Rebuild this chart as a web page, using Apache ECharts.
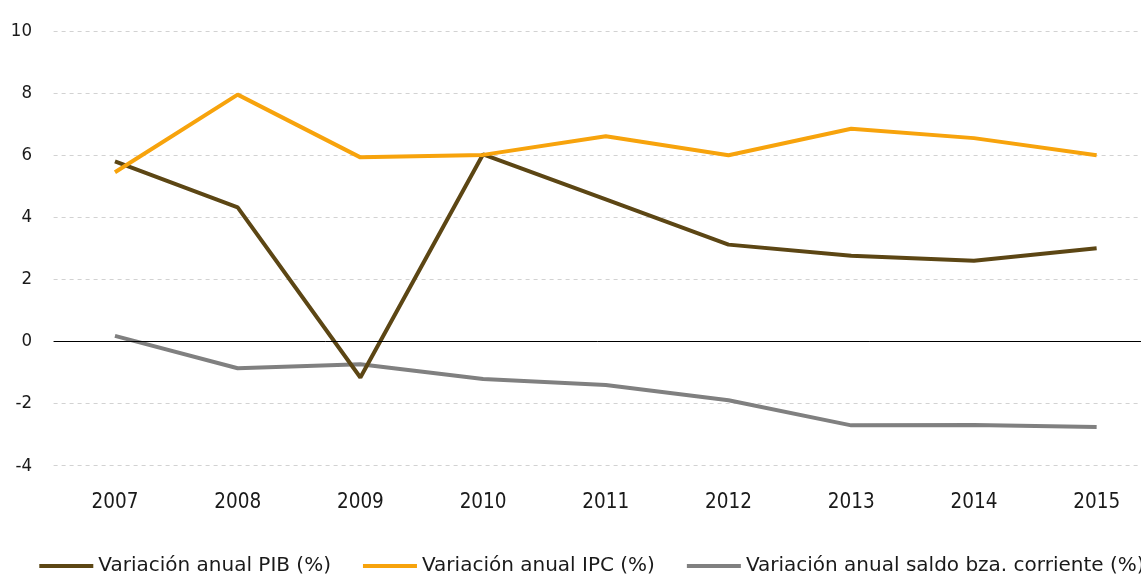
<!DOCTYPE html>
<html>
<head>
<meta charset="utf-8">
<script src="https://cdn.jsdelivr.net/npm/echarts@6/dist/echarts.min.js"></script>
<style>
html,body{margin:0;padding:0;background:#fff;}
#chart{width:1141px;height:580px;}
</style>
</head>
<body>
<div id="chart"></div>
<script>
const years = ['2007','2008','2009','2010','2011','2012','2013','2014','2015'];
const pib = [5.8, 4.32, -1.16, 6.03, 4.58, 3.12, 2.76, 2.6, 3.0];
const ipc = [5.45, 7.95, 5.93, 6.01, 6.61, 6.0, 6.85, 6.55, 6.0];
const saldo = [0.18, -0.86, -0.73, -1.21, -1.40, -1.89, -2.70, -2.69, -2.75];
const names = ['Variación anual PIB (%)', 'Variación anual IPC (%)', 'Variación anual saldo bza. corriente (%)'];
const colors = ['#5c4614', '#f7a30c', '#808080'];

const FONT_C = 'DejaVu Sans Condensed';
const FONT = 'DejaVu Sans';
const chart = echarts.init(document.getElementById('chart'), null, {renderer:'canvas'});
chart.setOption({
  animation: false,
  textStyle: {fontFamily: FONT_C},
  grid: {left: 53.6, top: 31, width: 1104.4, height: 434.7, containLabel: false, outerBoundsMode: 'none'},
  legend: {
    left: 34.3, top: 551, width: 3000, itemGap: 32,
    itemWidth: 54, itemHeight: 4, icon: 'rect',
    textStyle: {fontFamily: FONT, fontSize: 20, color: '#1a1a1a'},
    data: names
  },
  xAxis: {
    type: 'category', data: years, boundaryGap: true,
    axisLine: {show: false}, axisTick: {show: false},
    axisLabel: {fontFamily: FONT_C, fontSize: 20.5, color: '#1a1a1a', margin: 26.5}
  },
  yAxis: {
    type: 'value', min: -4, max: 10, interval: 2,
    axisLine: {show: false}, axisTick: {show: false},
    axisLabel: {fontFamily: FONT_C, fontSize: 18.5, color: '#1a1a1a', margin: 21.6, padding: [0, 0, 5, 0]},
    splitLine: {lineStyle: {color: '#d2d2d2', type: [4, 4], width: 1}}
  },
  series: [
    {name: names[2], type: 'line', data: saldo, symbol: 'none', lineStyle: {width: 4, color: colors[2]}, itemStyle: {color: colors[2]},
     markLine: {silent: true, symbol: 'none', label: {show: false}, lineStyle: {color: '#000', width: 1, type: 'solid'}, data: [{yAxis: 0}]}},
    {name: names[0], type: 'line', data: pib, symbol: 'none', lineStyle: {width: 4, color: colors[0]}, itemStyle: {color: colors[0]}},
    {name: names[1], type: 'line', data: ipc, symbol: 'none', lineStyle: {width: 4, color: colors[1]}, itemStyle: {color: colors[1]}}
  ]
});
</script>
</body>
</html>
